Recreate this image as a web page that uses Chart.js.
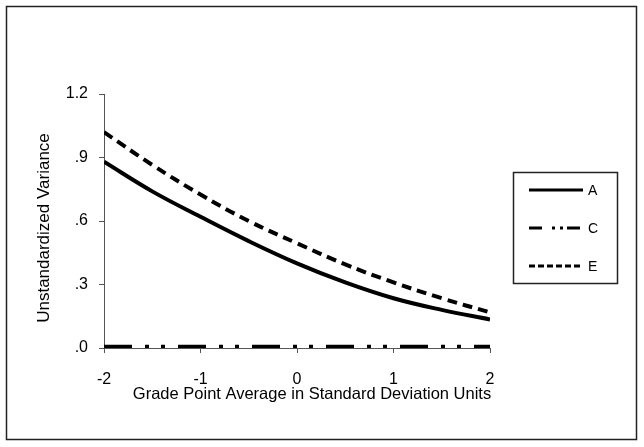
<!DOCTYPE html>
<html>
<head>
<meta charset="utf-8">
<script src="https://cdn.jsdelivr.net/npm/chart.js@4/dist/chart.umd.min.js"></script>
<style>
  html, body { margin: 0; padding: 0; background: #fff; }
  #wrap { width: 644px; height: 447px; position: relative; }
</style>
</head>
<body>
<div id="wrap"><canvas id="c" width="644" height="447"></canvas></div>
<script>
// Data
const gpa = [-2, -1.5, -1, -0.5, 0, 0.5, 1, 1.5, 2];
const varA = [0.88, 0.74, 0.62, 0.505, 0.40, 0.31, 0.235, 0.18, 0.135];
const varC = [0.006, 0.006, 0.006, 0.006, 0.006, 0.006, 0.006, 0.006, 0.006];
const varE = [1.02, 0.865, 0.725, 0.60, 0.495, 0.395, 0.31, 0.235, 0.168];
const seriesNames = ['A', 'C', 'E'];
const yTickLabels = { '0': '.0', '0.3': '.3', '0.6': '.6', '0.9': '.9', '1.2': '1.2' };
const xTitle = 'Grade Point Average in Standard Deviation Units';
const yTitle = 'Unstandardized Variance';

const FONT = '"Liberation Sans", Arial, sans-serif';

function pts(ys) { return gpa.map((x, i) => ({ x: x, y: ys[i] })); }

const framePlugin = {
  id: 'frame',
  beforeDraw(chart) {
    const ctx = chart.ctx;
    ctx.save();
    ctx.fillStyle = '#fff';
    ctx.fillRect(0, 0, chart.width, chart.height);
    ctx.strokeStyle = '#222';
    ctx.lineWidth = 1.5;
    ctx.strokeRect(6.5, 6.5, 630, 433);
    ctx.restore();
  }
};

const titlesPlugin = {
  id: 'axistitles',
  afterDraw(chart) {
    const ctx = chart.ctx;
    const a = chart.chartArea;
    ctx.save();
    ctx.font = '16.5px ' + FONT;
    ctx.fillStyle = '#000';
    ctx.textAlign = 'center';
    ctx.textBaseline = 'alphabetic';
    ctx.fillText(xTitle, (a.left + a.right) / 2 + 15, a.bottom + 51);
    ctx.translate(49, (a.top + a.bottom) / 2 + 7);
    ctx.rotate(-Math.PI / 2);
    ctx.font = '17px ' + FONT;
    ctx.fillText(yTitle, 0, 0);
    ctx.restore();
  }
};

const legendPlugin = {
  id: 'boxlegend',
  afterDraw(chart) {
    const ctx = chart.ctx;
    ctx.save();
    ctx.strokeStyle = '#222';
    ctx.lineWidth = 1.5;
    ctx.strokeRect(513.5, 172.5, 104, 111);
    const legendDash = [[], [13, 10, 3, 5, 3, 4], [6, 3]];
    chart.data.datasets.forEach((ds, i) => {
      const y = 190 + i * 38;
      ctx.beginPath();
      ctx.strokeStyle = ds.borderColor;
      ctx.lineWidth = 3;
      ctx.setLineDash(legendDash[i]);
      ctx.lineCap = 'butt';
      ctx.moveTo(529, y);
      ctx.lineTo(583, y);
      ctx.stroke();
      ctx.setLineDash([]);
      ctx.font = '14px ' + FONT;
      ctx.fillStyle = '#000';
      ctx.textAlign = 'left';
      ctx.textBaseline = 'middle';
      ctx.fillText(ds.label, 588, y + 1);
    });
    ctx.restore();
  }
};

new Chart(document.getElementById('c'), {
  type: 'line',
  data: {
    datasets: [
      { label: seriesNames[0], data: pts(varA), borderColor: '#000', borderWidth: 4, pointRadius: 0, tension: 0.4, fill: false },
      { label: seriesNames[1], data: pts(varC), borderColor: '#000', borderWidth: 4, pointRadius: 0, borderDash: [28, 13, 4, 12, 4, 13], tension: 0, fill: false },
      { label: seriesNames[2], data: pts(varE), borderColor: '#000', borderWidth: 4, pointRadius: 0, borderDash: [10, 6], tension: 0.4, fill: false }
    ]
  },
  options: {
    responsive: false,
    animation: false,
    devicePixelRatio: 1,
    layout: { padding: { left: 0, top: 94, right: 154, bottom: 0 } },
    plugins: { legend: { display: false }, tooltip: { enabled: false } },
    scales: {
      x: {
        type: 'linear',
        min: -2, max: 2,
        afterFit: (s) => { s.height = 99; },
        ticks: { stepSize: 1, color: '#000', font: { family: FONT, size: 16 }, padding: 17, maxRotation: 0 },
        grid: { drawOnChartArea: false, drawTicks: true, tickLength: 5, color: '#555' },
        border: { display: true, color: '#555', width: 1 }
      },
      y: {
        min: 0, max: 1.2,
        afterFit: (s) => { s.width = 104; },
        ticks: { stepSize: 0.3, color: '#000', font: { family: FONT, size: 16 }, padding: 11,
          callback: (v) => yTickLabels[String(Math.round(v * 10) / 10)] },
        grid: { drawOnChartArea: false, drawTicks: true, tickLength: 5, color: '#555' },
        border: { display: true, color: '#555', width: 1 },
        title: { display: false }
      }
    }
  },
  plugins: [framePlugin, titlesPlugin, legendPlugin]
});
</script>
</body>
</html>
